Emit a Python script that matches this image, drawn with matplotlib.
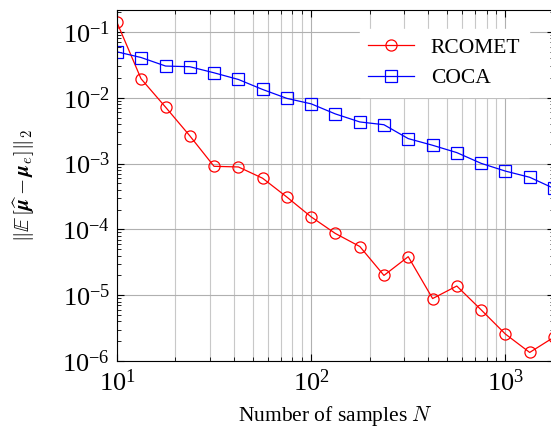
import matplotlib
matplotlib.use('Agg')
import matplotlib.pyplot as plt
from matplotlib.ticker import LogLocator, NullFormatter

# Datos
n_muestras = [10, 13.3, 17.8, 23.7, 31.6, 42.2, 56.2, 75, 100, 133, 178, 237,
              316, 422, 562, 750, 1000, 1334, 1778]
rcomet = [0.14, 0.0195, 0.0072, 0.00265, 0.00091, 0.00089, 0.0006, 0.00031,
          0.000155, 8.7e-5, 5.5e-5, 2.0e-5, 3.85e-5, 8.9e-6, 1.38e-5, 6.0e-6,
          2.57e-6, 1.35e-6, 2.3e-6]
coca = [0.050, 0.041, 0.0304, 0.0297, 0.024, 0.019, 0.0134, 0.0098, 0.0081,
        0.0057, 0.0043, 0.0039, 0.0024, 0.0019, 0.00147, 0.00101, 0.00077,
        0.00062, 0.00042]

plt.rcParams['mathtext.fontset'] = 'cm'
plt.rcParams['font.family'] = ['Liberation Serif', 'DejaVu Serif']

fig = plt.figure(figsize=(5.51, 4.28), dpi=100)
ax = fig.add_axes([0.2123, 0.1565, 0.793, 0.8201])

ax.plot(n_muestras, rcomet, '-', color='red', marker='o', markersize=8,
        markerfacecolor='none', markeredgewidth=0.9, linewidth=0.9, label='RCOMET')
ax.plot(n_muestras, coca, '-', color='blue', marker='s', markersize=8,
        markerfacecolor='none', markeredgewidth=0.9, linewidth=0.9, label='COCA')

ax.set_xscale('log')
ax.set_yscale('log')
ax.set_xlim(10, 1778)
ax.set_ylim(1e-6, 0.216)

ax.xaxis.set_minor_locator(LogLocator(base=10, subs=range(2, 10)))
ax.yaxis.set_minor_locator(LogLocator(base=10, subs=range(2, 10)))
ax.xaxis.set_minor_formatter(NullFormatter())
ax.yaxis.set_minor_formatter(NullFormatter())
ax.set_yticks([1e-6, 1e-5, 1e-4, 1e-3, 1e-2, 1e-1])
ax.set_xticks([10, 100, 1000])

ax.grid(True, which='major', color='#b0b0b0', linewidth=0.8)
ax.grid(True, which='minor', axis='x', color='#c8c8c8', linewidth=0.8)
ax.set_axisbelow(True)

ax.tick_params(which='both', direction='in', top=True, right=True)
ax.tick_params(which='major', length=5, labelsize=19)
ax.tick_params(axis='x', which='major', pad=6)
ax.tick_params(axis='y', which='major', pad=5)
ax.tick_params(which='minor', length=3)

ax.set_xlabel('Number of samples $N$', fontsize=15.5, labelpad=6)
ax.set_ylabel(r'$\|\mathbb{E}\,[\widehat{\boldsymbol{\mu}} - \boldsymbol{\mu}_e]\|_2$',
              fontsize=15, labelpad=18)

leg = ax.legend(loc='upper right', fontsize=15.5, frameon=True, fancybox=False,
                edgecolor='white', framealpha=1, handlelength=2.1,
                bbox_to_anchor=(0.943, 0.946), borderaxespad=0)

plt.savefig('out.png', dpi=100)
